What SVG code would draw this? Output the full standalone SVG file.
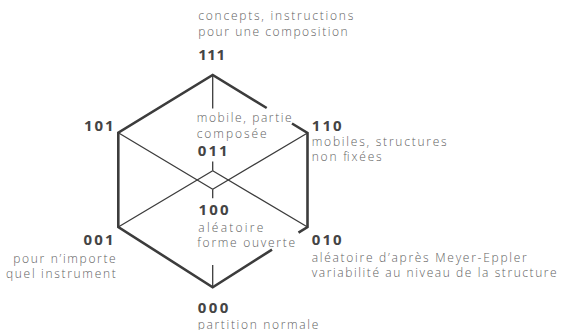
<svg xmlns="http://www.w3.org/2000/svg" width="562" height="330" viewBox="0 0 562 330">
  <style>
    .edge { fill: none; stroke: #3c3c3c; stroke-width: 2.6; stroke-linejoin: miter; stroke-linecap: butt; }
    .link { fill: none; stroke: #3c3c3c; stroke-width: 1.3; }
    .code { font-family: "Open Sans", "Liberation Sans", sans-serif; font-weight: 700; font-size: 15px; fill: #444; }
    .desc { font-family: "Open Sans", "Liberation Sans", sans-serif; font-weight: 300; font-size: 12px; fill: #616161; }
  </style>
  <rect width="562" height="330" fill="#fff"/>

  <!-- cube edges: outer hexagon thick, hidden edges thin -->
  <g id="connectors">
    <path class="edge" d="M266.7,108 L212.7,75 L118.3,132.7 L118.3,227 L212.7,287.3 L272,249.6"/>
    <path class="edge" d="M298.5,232.7 L307.5,227 L307.5,133 L292,123.5"/>
    <path class="link" d="M212.7,75 V108.5 M212.7,161.5 V170.7"/>
    <path class="link" d="M212.7,170.7 L118.3,227 M212.7,170.7 L307.5,227"/>
    <path class="link" d="M212.7,189.3 L118.3,132.7 M212.7,189.3 L307.5,133"/>
    <path class="link" d="M212.7,189.3 V198.3 M212.7,265 V287.3"/>
  </g>

  <g id="node-111">
    <text class="desc" x="198.3" y="20" textLength="155" lengthAdjust="spacing">concepts, instructions</text>
    <text class="desc" x="198.3" y="35.5" textLength="149.4" lengthAdjust="spacing">pour une composition</text>
    <text class="code" x="198.3" y="60" textLength="26.7" lengthAdjust="spacing">111</text>
  </g>

  <g id="node-101">
    <text class="code" x="84" y="130.5" textLength="29.5" lengthAdjust="spacing">101</text>
  </g>

  <g id="node-110">
    <text class="code" x="311.7" y="130.7" textLength="30" lengthAdjust="spacing">110</text>
    <text class="desc" x="311.7" y="145.5" textLength="135" lengthAdjust="spacing">mobiles, structures</text>
    <text class="desc" x="311.7" y="160.5" textLength="70" lengthAdjust="spacing">non fixées</text>
  </g>

  <g id="node-011">
    <text class="desc" x="196.7" y="122" textLength="95" lengthAdjust="spacing">mobile, partie</text>
    <text class="desc" x="196.7" y="137.5" textLength="70" lengthAdjust="spacing">composée</text>
    <text class="code" x="197.7" y="155.5" textLength="30" lengthAdjust="spacing">011</text>
  </g>

  <g id="node-100">
    <text class="code" x="198.5" y="215" textLength="30" lengthAdjust="spacing">100</text>
    <text class="desc" x="198.3" y="231.5" textLength="65" lengthAdjust="spacing">aléatoire</text>
    <text class="desc" x="197.3" y="246.5" textLength="97.7" lengthAdjust="spacing">forme ouverte</text>
  </g>

  <g id="node-001">
    <text class="code" x="83.5" y="245" textLength="30" lengthAdjust="spacing">001</text>
    <text class="desc" x="13.3" y="262.5" textLength="102.4" lengthAdjust="spacing">pour n’importe</text>
    <text class="desc" x="6" y="277.5" textLength="109.7" lengthAdjust="spacing">quel instrument</text>
  </g>

  <g id="node-010">
    <text class="code" x="311.7" y="245" textLength="30" lengthAdjust="spacing">010</text>
    <text class="desc" x="311.7" y="261.7" textLength="215" lengthAdjust="spacing">aléatoire d’après Meyer-Eppler</text>
    <text class="desc" x="311.7" y="276.7" textLength="245" lengthAdjust="spacing">variabilité au niveau de la structure</text>
  </g>

  <g id="node-000">
    <text class="code" x="197.7" y="313.3" textLength="30.6" lengthAdjust="spacing">000</text>
    <text class="desc" x="197.7" y="328.5" textLength="120.6" lengthAdjust="spacing">partition normale</text>
  </g>
</svg>
